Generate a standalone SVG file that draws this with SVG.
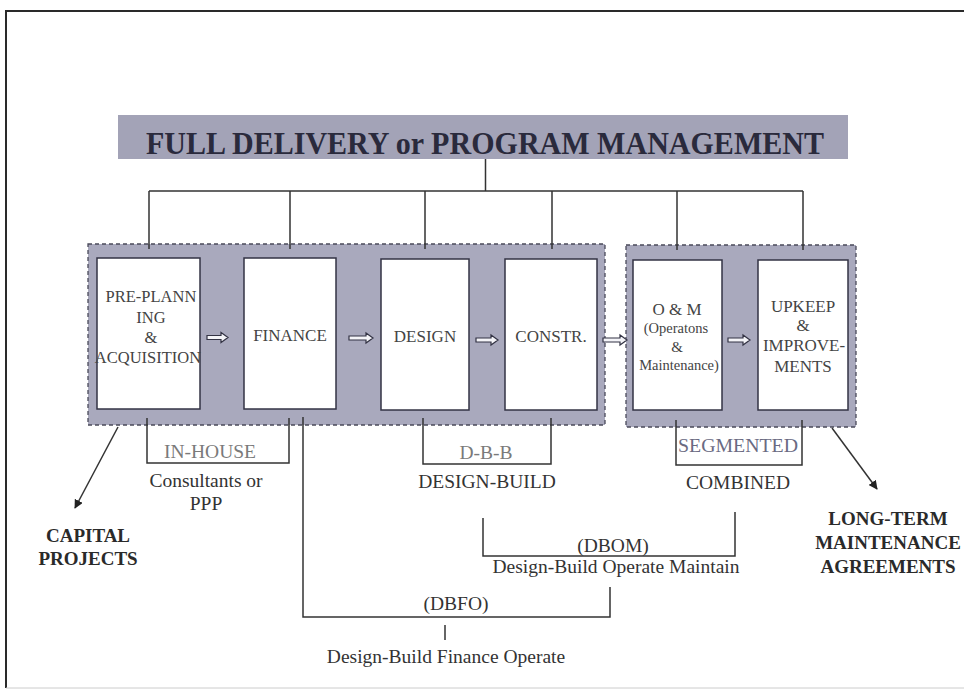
<svg xmlns="http://www.w3.org/2000/svg" width="964" height="690" viewBox="0 0 964 690">
<style>
  text { font-family: "Liberation Serif", "Times New Roman", serif; text-anchor: middle; }
  .box { fill: #ffffff; stroke: #333344; stroke-width: 1.5; }
  .grp { fill: #a9a9bd; stroke: #4a4a5a; stroke-width: 1.3; stroke-dasharray: 4 3; }
  .ln { fill: none; stroke: #333333; stroke-width: 1.5; }
  .in { fill: #444444; font-size: 17px; }
  .lbl { fill: #333333; font-size: 19.5px; }
  .gray { fill: #7a7a7a; font-size: 19.5px; }
  .bold { fill: #2a2a2a; font-size: 19px; font-weight: bold; }
  .harr { fill: #f4f4f8; stroke: #333344; stroke-width: 1.2; }
</style>
<defs>
  <marker id="ah" viewBox="0 0 10 10" refX="9" refY="5" markerWidth="9" markerHeight="9" markerUnits="userSpaceOnUse" orient="auto">
    <path d="M0,0 L10,5 L0,10 z" fill="#222222"/>
  </marker>
</defs>
<rect width="964" height="690" fill="#ffffff"/>
<g id="frame">
  <path d="M964,11 H6 V688" fill="none" stroke="#2a2a2a" stroke-width="2"/>
  <path d="M6,688 H964" fill="none" stroke="#cccccc" stroke-width="1"/>
</g>
<g id="title">
  <rect x="118" y="115" width="730" height="44" fill="#a3a3b7"/>
  <text x="485" y="154" font-size="32" font-weight="bold" fill="#2a2a3c" textLength="678" lengthAdjust="spacingAndGlyphs">FULL DELIVERY or PROGRAM MANAGEMENT</text>
</g>
<g id="group-left"><rect class="grp" x="88" y="244" width="517" height="181"/></g>
<g id="group-right"><rect class="grp" x="626" y="245" width="230" height="182"/></g>
<g id="connectors">
  <path class="ln" d="M485.5,159 V191 M149,191 H803 M149,191 V249 M290,191 V249 M425,191 V249 M552,191 V249 M677,191 V250 M803,191 V250"/>
  <path class="ln" d="M147,418 V463 H289 V418"/>
  <path class="ln" d="M423,418 V464 H551 V418"/>
  <path class="ln" d="M676,420 V465 H802 V420"/>
  <path class="ln" d="M303,417 V617 H610 V587"/>
  <path class="ln" d="M483,518 V556 H735 V512"/>
  <path class="ln" d="M445,625 V640"/>
  <line class="ln" x1="118" y1="427" x2="75" y2="508" marker-end="url(#ah)"/>
  <line class="ln" x1="832" y1="428" x2="877" y2="489" marker-end="url(#ah)"/>
  <path class="harr" d="M207,335.5 H221 V332.5 L228,337.5 L221,342.5 V339.5 H207 Z"/>
  <path class="harr" d="M349,336 H366 V333 L373,338 L366,343 V340 H349 Z"/>
  <path class="harr" d="M476,338 H491 V335 L498,340 L491,345 V342 H476 Z"/>
  <path class="harr" d="M603,338 H620 V335 L627,340 L620,345 V342 H603 Z"/>
  <path class="harr" d="M728,338 H743 V335 L750,340 L743,345 V342 H728 Z"/>
</g>
<g id="preplanning">
  <rect class="box" x="97" y="258" width="103" height="151"/>
  <text class="in" style="font-size:16.5px" x="151" y="302">PRE-PLANN</text>
  <text class="in" style="font-size:16.5px" x="151" y="322.5">ING</text>
  <text class="in" style="font-size:16.5px" x="151" y="343">&amp;</text>
  <text class="in" style="font-size:16.5px" x="148" y="363">ACQUISITION</text>
</g>
<g id="finance">
  <rect class="box" x="244" y="258" width="92" height="151"/>
  <text class="in" x="290" y="341">FINANCE</text>
</g>
<g id="design">
  <rect class="box" x="381" y="259" width="88" height="151"/>
  <text class="in" x="425" y="342">DESIGN</text>
</g>
<g id="constr">
  <rect class="box" x="505" y="259" width="92" height="151"/>
  <text class="in" x="551" y="342">CONSTR.</text>
</g>
<g id="om">
  <rect class="box" x="633" y="260" width="89" height="150"/>
  <text class="in" x="677" y="315">O &amp; M</text>
  <text class="in" style="font-size:14.5px" x="676" y="333">(Operatons</text>
  <text class="in" style="font-size:15px" x="677" y="352">&amp;</text>
  <text class="in" style="font-size:14.5px" x="679" y="370">Maintenance)</text>
</g>
<g id="upkeep">
  <rect class="box" x="758" y="260" width="90" height="150"/>
  <text class="in" x="803" y="312">UPKEEP</text>
  <text class="in" x="803" y="331">&amp;</text>
  <text class="in" x="804" y="351">IMPROVE-</text>
  <text class="in" x="803" y="372">MENTS</text>
</g>
<g id="labels">
  <text class="gray" x="210" y="458">IN-HOUSE</text>
  <text class="lbl" x="206" y="487">Consultants or</text>
  <text class="lbl" x="206" y="510">PPP</text>
  <text class="bold" x="88" y="542">CAPITAL</text>
  <text class="bold" x="88" y="565">PROJECTS</text>
  <text class="gray" x="486" y="459">D-B-B</text>
  <text class="lbl" x="487" y="488">DESIGN-BUILD</text>
  <text class="gray" style="fill:#6a6a82" x="738" y="452" textLength="120" lengthAdjust="spacingAndGlyphs">SEGMENTED</text>
  <text class="lbl" x="738" y="489">COMBINED</text>
  <text class="lbl" x="613" y="552">(DBOM)</text>
  <text class="lbl" x="616" y="573">Design-Build Operate Maintain</text>
  <text class="lbl" x="456" y="610">(DBFO)</text>
  <text class="lbl" x="446" y="663">Design-Build Finance Operate</text>
  <text class="bold" x="888" y="525">LONG-TERM</text>
  <text class="bold" x="888" y="549">MAINTENANCE</text>
  <text class="bold" x="888" y="573">AGREEMENTS</text>
</g>
</svg>
